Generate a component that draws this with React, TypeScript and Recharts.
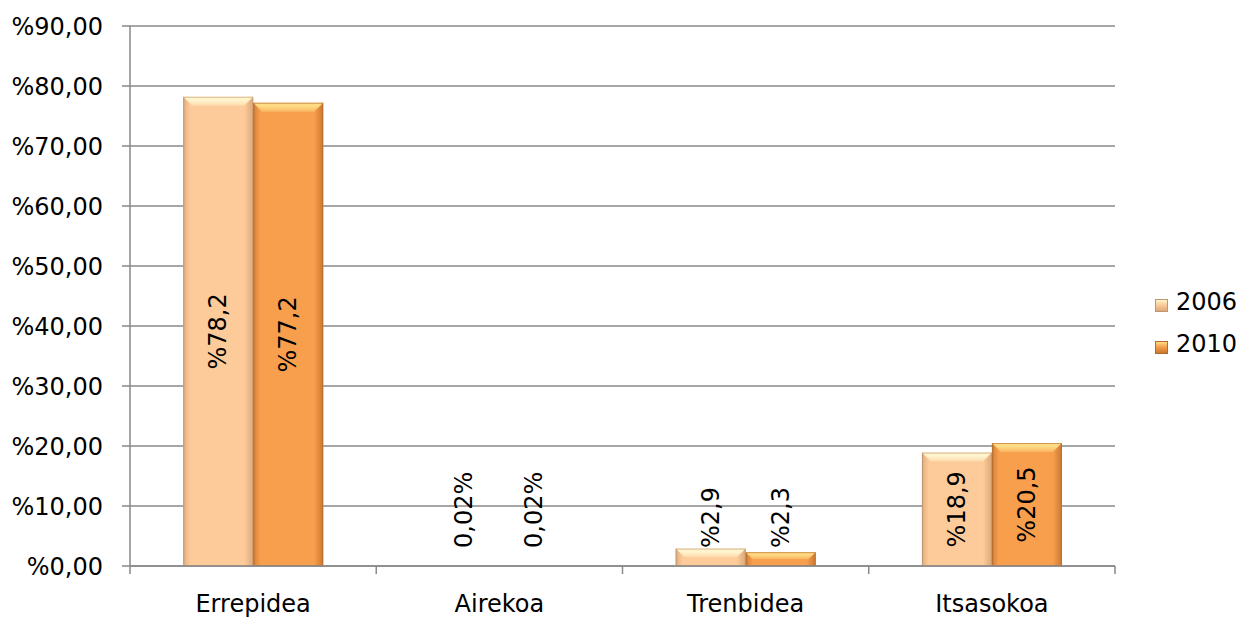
import { BarChart, Bar, XAxis, YAxis, CartesianGrid, LabelList } from 'recharts';

const categories = ['Errepidea', 'Airekoa', 'Trenbidea', 'Itsasokoa'];
const values2006 = [78.2, 0.02, 2.9, 18.9];
const values2010 = [77.2, 0.02, 2.3, 20.5];
const labels2006 = ['%78,2', '0,02%', '%2,9', '%18,9'];
const labels2010 = ['%77,2', '0,02%', '%2,3', '%20,5'];
const seriesNames = ['2006', '2010'];
const yTicks = [0, 10, 20, 30, 40, 50, 60, 70, 80, 90];

const W = 1237;
const H = 617;
const PLOT_LEFT = 130;
const PLOT_RIGHT = 1115;
const PLOT_BOTTOM = 566;
const FONT = "'DejaVu Sans', Verdana, sans-serif";
const FS = 24;
const GRID = '#898989';

const data = categories.map((name, i) => ({
  name,
  v2006: values2006[i],
  v2010: values2010[i],
  l2006: labels2006[i],
  l2010: labels2010[i],
}));

const PALETTE: Record<string, { main: string; edge: string; shade: string; light: string }> = {
  a: { main: '#FDCA99', edge: '#BE9670', shade: '#DDA87A', light: '#FFF6CF' },
  b: { main: '#F89F4E', edge: '#B26A30', shade: '#C9772F', light: '#FFDD85' },
};

const makeShape = (key: string) => (props: any) => {
  const { x, y, width, height } = props;
  const c = PALETTE[key];
  if (!height || height < 1) return <rect x={x} y={y} width={width} height={Math.max(height, 0)} fill={c.main} />;
  const b = Math.min(9, height / 2);
  return (
    <g>
      <rect x={x} y={y} width={width} height={height} fill={c.main} />
      <rect x={x + width - 9} y={y} width={9} height={height} fill={`url(#rs-${key})`} />
      <rect x={x} y={y} width={7} height={height} fill={`url(#ls-${key})`} />
      <polygon
        points={`${x},${y} ${x + width},${y} ${x + width - b},${y + b} ${x + b},${y + b}`}
        fill={`url(#ts-${key})`}
      />
      <rect x={x + 0.5} y={y + 0.5} width={width - 1} height={height - 1} fill="none" stroke={c.edge} strokeOpacity={0.6} />
    </g>
  );
};

const charW = (ch: string) => {
  if (ch === '%') return 0.95;
  if (ch === ',') return 0.318;
  return 0.636;
};

const renderLabel = (props: any) => {
  const vb = props.viewBox && props.viewBox.width !== undefined ? props.viewBox : props;
  const { x, y, width, height } = vb;
  const text = String(props.value);
  const len = text.split('').reduce((s, ch) => s + charW(ch), 0) * FS;
  const cx = x + width / 2;
  const cy = Math.min(y + height / 2, PLOT_BOTTOM - 18 - len / 2);
  return (
    <text
      x={cx}
      y={cy}
      transform={`rotate(-90 ${cx} ${cy})`}
      textAnchor="middle"
      dominantBaseline="central"
      fontFamily={FONT}
      fontSize={FS}
      fill="#000"
    >
      {text}
    </text>
  );
};

const BAND = (PLOT_RIGHT - PLOT_LEFT) / categories.length;

const CategoryTick = (props: any) => {
  const { x, y, payload, index } = props;
  const axisY = y - 30;
  return (
    <g>
      <line x1={x - BAND / 2} x2={x - BAND / 2} y1={axisY} y2={axisY + 8} stroke={GRID} strokeWidth={1.5} />
      {index === categories.length - 1 && (
        <line x1={x + BAND / 2} x2={x + BAND / 2} y1={axisY} y2={axisY + 8} stroke={GRID} strokeWidth={1.5} />
      )}
      <text x={x} y={y} dy="0.68em" textAnchor="middle" fontFamily={FONT} fontSize={FS} fill="#000">
        {payload.value}
      </text>
    </g>
  );
};

const fmtY = (v: number) => `%${v.toFixed(2).replace('.', ',')}`;

export default function App() {
  return (
    <div style={{ position: 'relative', width: W, height: H, background: '#fff', fontFamily: FONT }}>
      <style>{'body{margin:0}'}</style>
      <BarChart
        width={W}
        height={H}
        data={data}
        margin={{ top: 26, right: W - PLOT_RIGHT, bottom: 0, left: 0 }}
        barCategoryGap="21.6%"
        barGap={0}
      >
        <defs>
          {Object.keys(PALETTE).map((k) => (
            <g key={k}>
              <linearGradient id={`rs-${k}`} x1="0" y1="0" x2="1" y2="0">
                <stop offset="0" stopColor={PALETTE[k].shade} stopOpacity={0} />
                <stop offset="1" stopColor={PALETTE[k].shade} stopOpacity={1} />
              </linearGradient>
              <linearGradient id={`ls-${k}`} x1="0" y1="0" x2="1" y2="0">
                <stop offset="0" stopColor={PALETTE[k].edge} stopOpacity={0.9} />
                <stop offset="0.35" stopColor={PALETTE[k].shade} stopOpacity={0.5} />
                <stop offset="1" stopColor={PALETTE[k].shade} stopOpacity={0} />
              </linearGradient>
              <linearGradient id={`ts-${k}`} x1="0" y1="0" x2="0" y2="1">
                <stop offset="0" stopColor={PALETTE[k].light} stopOpacity={1} />
                <stop offset="0.4" stopColor={PALETTE[k].light} stopOpacity={0.95} />
                <stop offset="1" stopColor={PALETTE[k].light} stopOpacity={0.35} />
              </linearGradient>
            </g>
          ))}
        </defs>
        <CartesianGrid vertical={false} stroke={GRID} strokeWidth={1.5} />
        <XAxis
          dataKey="name"
          height={51}
          axisLine={{ stroke: GRID, strokeWidth: 1.5 }}
          tickLine={false}
          tickSize={8}
          tickMargin={22}
          tick={<CategoryTick />}
          interval={0}
        />
        <YAxis
          width={PLOT_LEFT}
          domain={[0, 90]}
          ticks={yTicks}
          tickFormatter={fmtY}
          axisLine={{ stroke: GRID, strokeWidth: 1.5 }}
          tickLine={{ stroke: GRID, strokeWidth: 1.5 }}
          tickSize={8}
          tickMargin={19}
          tick={{ fill: '#000', fontSize: FS, fontFamily: FONT }}
          interval={0}
        />
        <Bar dataKey="v2006" name={seriesNames[0]} fill={PALETTE.a.main} shape={makeShape('a')} isAnimationActive={false}>
          <LabelList dataKey="l2006" content={renderLabel} />
        </Bar>
        <Bar dataKey="v2010" name={seriesNames[1]} fill={PALETTE.b.main} shape={makeShape('b')} isAnimationActive={false}>
          <LabelList dataKey="l2010" content={renderLabel} />
        </Bar>
      </BarChart>
      <div style={{ position: 'absolute', left: 1155, top: 281 }}>
        {seriesNames.map((s, i) => {
          const c = PALETTE[i === 0 ? 'a' : 'b'];
          return (
            <div key={s} style={{ display: 'flex', alignItems: 'center', height: 42 }}>
              <span
                style={{
                  display: 'inline-block',
                  width: 13,
                  height: 13,
                  marginTop: 6,
                  marginRight: 8,
                  background: `linear-gradient(to bottom, ${c.light} 0%, ${c.main} 45%, ${c.shade} 100%)`,
                  border: `1px solid ${c.edge}`,
                  boxSizing: 'border-box',
                }}
              />
              <span style={{ fontSize: FS, color: '#000', lineHeight: 1 }}>{s}</span>
            </div>
          );
        })}
      </div>
    </div>
  );
}
